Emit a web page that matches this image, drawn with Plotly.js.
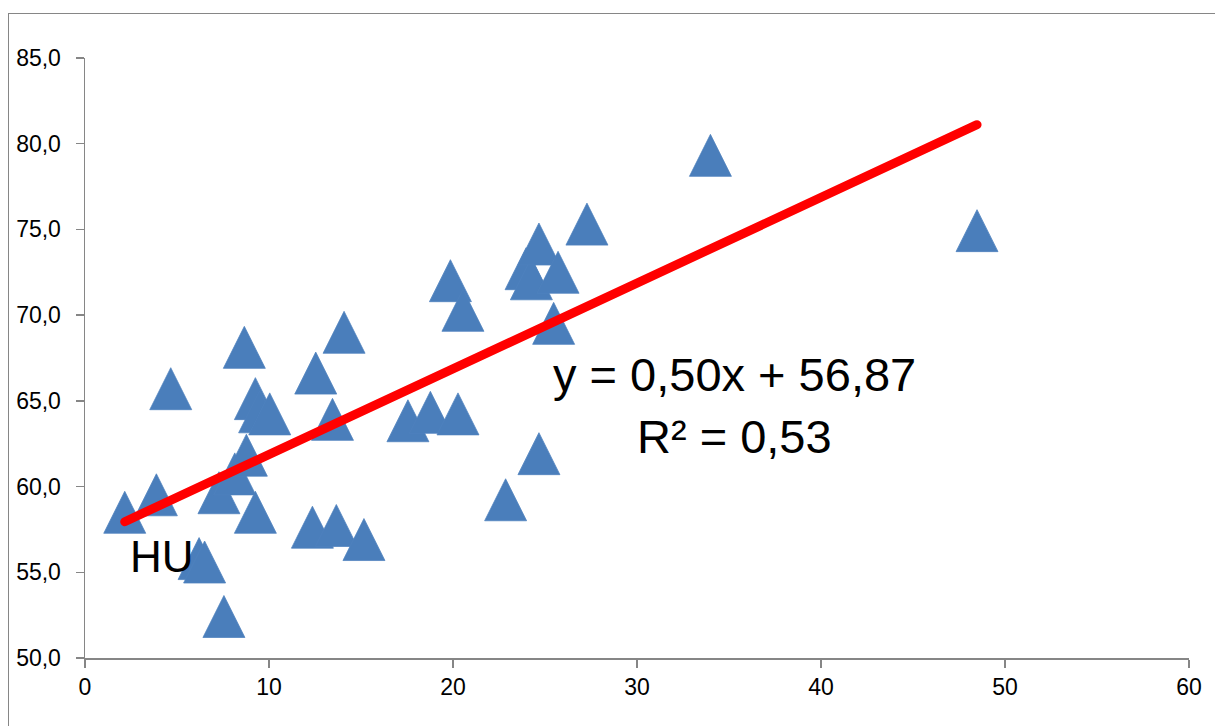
<!DOCTYPE html>
<html>
<head>
<meta charset="utf-8">
<script src="https://cdn.plot.ly/plotly-3.0.1.min.js"></script>
<style>
  html, body { margin: 0; padding: 0; background: #fff; overflow: hidden; }
  #frame { position: absolute; left: 8px; top: 13px; width: 1400px; height: 900px;
           border: 1.5px solid #868686; box-sizing: border-box; pointer-events: none; }
  #chart { position: absolute; left: 0; top: 0; width: 1215px; height: 726px; }
</style>
</head>
<body>
<div id="chart"></div>
<div id="frame"></div>
<script>
// Data points (x, y)
const xValues = [2.16, 3.88, 4.66, 6.2, 6.5, 7.28, 7.55, 8.14, 8.66, 8.77, 9.26, 9.26,
                 9.49, 10.04, 12.36, 12.54, 13.45, 13.66, 14.08, 15.16, 17.55, 18.77,
                 19.86, 20.27, 20.54, 22.86, 23.97, 24.26, 24.67, 24.67, 25.47, 25.71,
                 27.28, 33.99, 48.48];
const yValues = [58.5, 59.52, 65.71, 55.8, 55.6, 59.64, 52.42, 60.74, 68.12, 61.83, 65.13, 58.5,
                 64.36, 64.24, 57.63, 66.62, 63.92, 57.73, 69.0, 56.91, 63.84, 64.33,
                 72.01, 64.24, 70.28, 59.23, 72.71, 72.12, 74.15, 61.92, 69.52, 72.5,
                 75.31, 79.32, 74.93];

// Trend line end points (y = 0,50x + 56,87)
const trendX = [2.16, 48.48];
const trendY = [57.95, 81.11];

const xTicks = [0, 10, 20, 30, 40, 50, 60];
const yTicks = [50, 55, 60, 65, 70, 75, 80, 85];

const equationText = "y = 0,50x + 56,87";
const r2Text = "R² = 0,53";
const pointLabel = "HU";

const axisColor = "#868686";
const tickFont = { family: "Liberation Sans, Arial, sans-serif", size: 23, color: "#000" };

const traces = [
  {
    x: xValues, y: yValues, type: "scatter", mode: "markers",
    marker: { symbol: "triangle-up", size: 40, color: "#4A7EBB",
              line: { width: 0.75, color: "#4F81BD" } },
    hoverinfo: "x+y"
  },
  {
    x: trendX, y: trendY, type: "scatter", mode: "lines",
    line: { color: "#FF0000", width: 9 },
    hoverinfo: "skip"
  }
];

const layout = {
  width: 1215, height: 726,
  margin: { l: 85, r: 26, t: 58, b: 68 },
  paper_bgcolor: "#fff", plot_bgcolor: "#fff",
  showlegend: false,
  separators: ",.",
  font: { family: "Liberation Sans, Arial, sans-serif", color: "#000" },
  xaxis: {
    range: [0, 60], tickvals: xTicks, ticktext: xTicks.map(String),
    showgrid: false, zeroline: false,
    showline: true, linecolor: axisColor, linewidth: 1.5,
    ticks: "outside", ticklen: 8, tickwidth: 1.5, tickcolor: axisColor,
    tickfont: tickFont
  },
  yaxis: {
    range: [50, 85], tickvals: yTicks, ticktext: yTicks.map(v => v.toFixed(1).replace(".", ",")),
    showgrid: false, zeroline: false,
    showline: true, linecolor: axisColor, linewidth: 1.5,
    ticks: "outside", ticklen: 8, tickwidth: 1.5, tickcolor: axisColor,
    tickfont: tickFont, ticklabelstandoff: 10
  },
  annotations: [
    { xref: "paper", yref: "paper", x: 0.588, y: 0.473, text: equationText,
      showarrow: false, xanchor: "center", yanchor: "middle",
      font: { family: "Liberation Sans, Arial, sans-serif", size: 47, color: "#000" } },
    { xref: "paper", yref: "paper", x: 0.588, y: 0.37, text: r2Text,
      showarrow: false, xanchor: "center", yanchor: "middle",
      font: { family: "Liberation Sans, Arial, sans-serif", size: 47, color: "#000" } },
    { xref: "paper", yref: "paper", x: 0.0695, y: 0.17, text: pointLabel,
      showarrow: false, xanchor: "center", yanchor: "middle",
      font: { family: "Liberation Sans, Arial, sans-serif", size: 44, color: "#000" } }
  ]
};

Plotly.newPlot("chart", traces, layout, { staticPlot: true }).then(function (gd) {
  // Excel-style triangle: equal width and height, centred on the point
  gd.querySelectorAll(".scatterlayer .trace:nth-child(1) path.point").forEach(function (p) {
    p.setAttribute("d", "M-21,21H21L0,-21Z");
  });
  gd.querySelectorAll(".scatterlayer .trace:nth-child(2) path.js-line").forEach(function (p) {
    p.style.strokeLinecap = "round";
  });
});
</script>
</body>
</html>
